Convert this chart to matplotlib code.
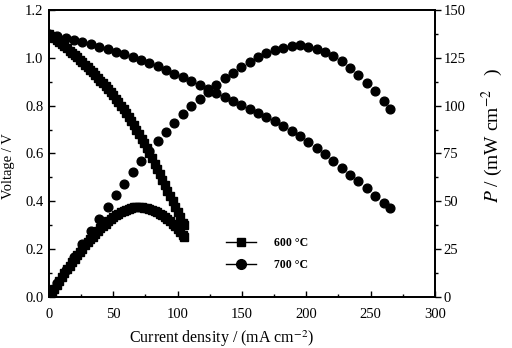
import matplotlib
matplotlib.use("Agg")
import matplotlib.pyplot as plt
from matplotlib.lines import Line2D
from matplotlib.ticker import MultipleLocator

plt.rcParams['font.family'] = ['Liberation Serif', 'DejaVu Serif']
plt.rcParams['mathtext.fontset'] = 'stix'

# ---- data ----
i600 = [0, 2, 4, 6, 8, 10, 12, 14, 16, 18, 20, 22, 24, 26, 28, 30, 32, 34, 36,
        38, 40, 42, 44, 46, 48, 50, 52, 54, 56, 58, 60, 62, 64, 66, 68, 70, 72,
        74, 76, 78, 80, 82, 84, 86, 88, 90, 92, 94, 96, 98, 100, 102, 104, 105]
v600 = [1.100, 1.091, 1.083, 1.074, 1.065, 1.057, 1.048, 1.039, 1.030, 1.021,
        1.012, 1.002, 0.992, 0.982, 0.972, 0.961, 0.950, 0.939, 0.928, 0.917,
        0.905, 0.893, 0.881, 0.869, 0.856, 0.843, 0.829, 0.815, 0.800, 0.785,
        0.770, 0.753, 0.736, 0.719, 0.700, 0.681, 0.662, 0.642, 0.622, 0.601,
        0.580, 0.558, 0.536, 0.513, 0.491, 0.468, 0.445, 0.423, 0.400, 0.378,
        0.356, 0.334, 0.311, 0.300]
p600 = [0, 2.2, 4.3, 6.4, 8.5, 10.5, 12.5, 14.5, 16.4, 18.3, 20.1, 21.9, 23.6,
        25.3, 27.0, 28.6, 30.1, 31.6, 33.1, 34.5, 35.9, 37.2, 38.4, 39.6, 40.7,
        41.7, 42.6, 43.5, 44.3, 45.0, 45.6, 46.1, 46.5, 46.8, 47.0, 47.0, 46.9,
        46.7, 46.4, 46.0, 45.5, 44.9, 44.2, 43.4, 42.6, 41.7, 40.7, 39.6, 38.4,
        37.1, 35.7, 34.1, 32.4, 31.6]

i700 = [0, 6.5, 13, 19.5, 26, 32.5, 39, 45.5, 52, 58.5, 65, 71.5, 78, 84.5, 91,
        97.5, 104, 110.5, 117, 123.5, 130, 136.5, 143, 149.5, 156, 162.5, 169,
        175.5, 182, 188.5, 195, 201.5, 208, 214.5, 221, 227.5, 234, 240.5, 247,
        253.5, 260, 265]
v700 = [1.100, 1.092, 1.084, 1.076, 1.066, 1.056, 1.047, 1.036, 1.025, 1.014,
        1.003, 0.991, 0.979, 0.964, 0.949, 0.934, 0.918, 0.902, 0.886, 0.869,
        0.853, 0.837, 0.820, 0.804, 0.788, 0.771, 0.754, 0.736, 0.716, 0.695,
        0.675, 0.649, 0.623, 0.597, 0.570, 0.541, 0.512, 0.483, 0.454, 0.424,
        0.394, 0.371]
p700 = [0, 7.1, 14.1, 21.0, 27.7, 34.3, 40.8, 47.1, 53.3, 59.3, 65.2, 70.9, 76.4,
        81.5, 86.4, 91.1, 95.5, 99.7, 103.7, 107.3, 110.9, 114.3, 117.3, 120.2,
        122.9, 125.3, 127.4, 129.2, 130.3, 131.0, 131.6, 130.8, 129.6, 128.1,
        126.0, 123.1, 119.8, 116.2, 112.1, 107.5, 102.4, 98.3]

labels = ['600 °C', '700 °C']

# ---- figure ----
fig = plt.figure(figsize=(5.12, 3.48), dpi=100)
ax = fig.add_axes([0.0957, 0.1466, 0.7539, 0.8247])
ax2 = ax.twinx()

ms_sq = 5.2
ms_ci = 6.3
ax.plot(i600, v600, ls='none', marker='s', ms=ms_sq, color='black')
ax.plot(i700, v700, ls='none', marker='o', ms=ms_ci, color='black')
ax2.plot(i600, p600, ls='none', marker='s', ms=ms_sq, color='black')
ax2.plot(i700, p700, ls='none', marker='o', ms=ms_ci, color='black')

ax.set_xlim(0, 300)
ax.set_ylim(0, 1.2)
ax2.set_ylim(0, 150)

ax.xaxis.set_major_locator(MultipleLocator(50))
ax.xaxis.set_minor_locator(MultipleLocator(25))
ax.yaxis.set_major_locator(MultipleLocator(0.2))
ax.yaxis.set_minor_locator(MultipleLocator(0.1))
ax2.yaxis.set_major_locator(MultipleLocator(25))
ax2.yaxis.set_minor_locator(MultipleLocator(12.5))
ax.yaxis.set_major_formatter(plt.FuncFormatter(lambda v, p: f"{v:.1f}"))

fs = 10.5
ax.tick_params(axis='x', which='both', direction='in', top=False, labelsize=fs, pad=8)
ax.tick_params(axis='x', which='major', length=4, width=1)
ax.tick_params(axis='x', which='minor', length=2.5, width=1)
ax.tick_params(axis='y', which='both', direction='in', right=False, labelsize=fs, pad=4)
ax.tick_params(axis='y', which='major', length=4, width=1)
ax.tick_params(axis='y', which='minor', length=2.5, width=1)
ax2.tick_params(axis='y', which='both', direction='out', labelsize=fs, pad=2)
ax2.tick_params(axis='y', which='major', length=4, width=1)
ax2.tick_params(axis='y', which='minor', length=2.5, width=1)

for a in (ax, ax2):
    for s in a.spines.values():
        s.set_linewidth(1.3)

ax.set_xlabel('Current density / (mA cm$^{-2}$)', fontsize=11.5)
ax.xaxis.set_label_coords(0.448, -0.108)
ax.set_ylabel('Voltage / V', fontsize=10.5)
ax.yaxis.set_label_coords(-0.088, 0.455)
ax2.set_ylabel('$P$ / (mW cm$^{-2}$   )', fontsize=14, rotation=90)
ax2.yaxis.set_label_coords(1.115, 0.565)

handles = [Line2D([], [], color='black', lw=1, marker='s', ms=6),
           Line2D([], [], color='black', lw=1, marker='o', ms=7)]
ax.legend(handles, labels, loc='upper left', bbox_to_anchor=(0.43, 0.245),
          frameon=False, handlelength=2.6, handletextpad=1.5, labelspacing=0.85,
          prop={'weight': 'bold', 'size': 8.5, 'family': 'Liberation Serif'})

fig.savefig('out.png', dpi=100)
